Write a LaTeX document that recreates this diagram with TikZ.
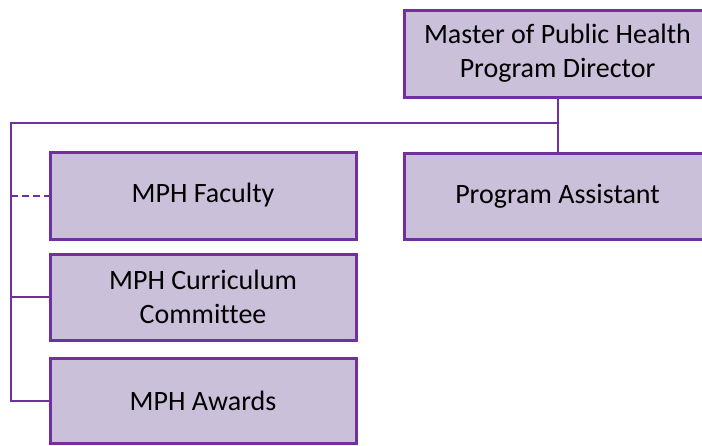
\documentclass[tikz,border=0pt]{standalone}
\usepackage{fontspec}
\setmainfont[Ligatures=NoCommon]{Carlito}
\definecolor{boxfill}{HTML}{CBC0DA}
\definecolor{boxline}{HTML}{7030A0}
\begin{document}
\begin{tikzpicture}[x=1pt,y=-1pt,
  orgbox/.style={draw=boxline,fill=boxfill,line width=3pt,rectangle,
    minimum width=306pt,align=center,inner sep=0pt,
    font=\fontsize{28}{34}\selectfont,text=black},
  conn/.style={draw=boxline,line width=2pt}]
\useasboundingbox (0,0) rectangle (702,445);
\clip (0,0) rectangle (702,445);
\node[orgbox,minimum height=87pt] (dir) at (557.5,53.5) {Master of Public Health\\Program Director};
\node[orgbox,minimum height=86pt] (pa) at (557.5,196) {Program Assistant};
\node[orgbox,minimum height=87pt] (fac) at (203,195.5) {MPH Faculty};
\node[orgbox,minimum height=86pt] (cur) at (203,297) {MPH Curriculum\\Committee};
\node[orgbox,minimum height=85pt] (awd) at (203,400.5) {MPH Awards};
\coordinate (c0) at (11,123);
\draw[conn] (dir.south) -- (pa.north);
\draw[conn,line cap=rect] (dir.south |- c0) -- (c0) -- (c0 |- awd.west) -- (awd.west);
\draw[conn] (c0 |- cur.west) -- (cur.west);
\draw[conn,dash pattern=on 7pt off 4pt] (c0 |- fac.west) -- (fac.west);
\end{tikzpicture}
\end{document}
